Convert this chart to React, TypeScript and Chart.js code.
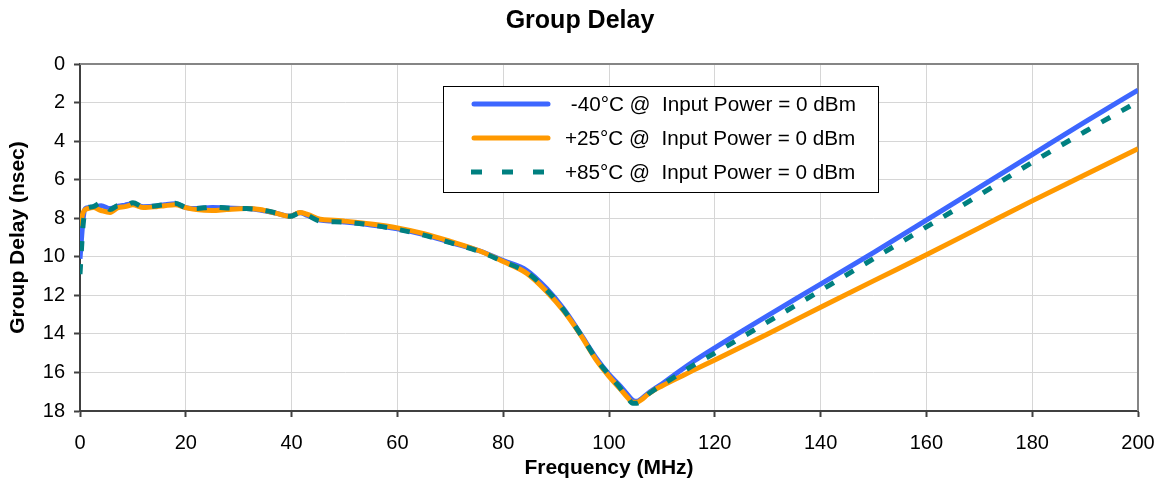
import React, { useEffect, useRef } from "react";
import { Chart, registerables } from "chart.js";

Chart.register(...registerables);

const chartTitle = "Group Delay";
const xAxisTitle = "Frequency (MHz)";
const yAxisTitle = "Group Delay (nsec)";

const seriesLabels = [
  " -40°C @  Input Power = 0 dBm",
  "+25°C @  Input Power = 0 dBm",
  "+85°C @  Input Power = 0 dBm",
];

const frequencyMHz = [
  0, 0.3, 0.6, 1, 1.5, 2.5, 4, 5.7, 7.2, 8.5, 10, 12, 14.5, 16, 18, 20, 22, 25,
  27.7, 31.5, 34, 37.2, 39.7, 41.6, 43, 45.4, 48, 50, 55, 60, 65, 70, 75.6, 80,
  84.4, 88.2, 91.4, 94.5, 97.7, 100, 102.1, 103.5, 104.5, 105.3, 106.2, 107.3,
  108.6, 110, 112.5, 116, 120, 130, 140, 150, 160, 170, 180, 190, 200,
];

const delayMinus40 = [
  10.1, 9.0, 8.0, 7.5, 7.45, 7.42, 7.35, 7.5, 7.38, 7.32, 7.25, 7.4, 7.36, 7.3,
  7.25, 7.45, 7.5, 7.45, 7.47, 7.5, 7.58, 7.75, 7.9, 7.72, 7.85, 8.1, 8.15, 8.2,
  8.35, 8.55, 8.85, 9.25, 9.7, 10.2, 10.7, 11.65, 12.7, 13.95, 15.3, 16.1, 16.7,
  17.15, 17.45, 17.5, 17.35, 17.1, 16.85, 16.6, 16.1, 15.42, 14.72, 13.05,
  11.42, 9.78, 8.1, 6.4, 4.7, 3.0, 1.35,
];

const delayPlus25 = [
  8.4, 8.0, 7.7, 7.55, 7.5, 7.45, 7.6, 7.7, 7.45, 7.4, 7.3, 7.45, 7.4, 7.35,
  7.3, 7.45, 7.55, 7.6, 7.55, 7.5, 7.55, 7.75, 7.9, 7.7, 7.8, 8.05, 8.1, 8.15,
  8.3, 8.5, 8.8, 9.2, 9.7, 10.25, 10.85, 11.8, 12.8, 14.0, 15.4, 16.2, 16.85,
  17.3, 17.55, 17.55, 17.4, 17.15, 16.9, 16.7, 16.36, 15.88, 15.35, 14.0, 12.62,
  11.25, 9.9, 8.5, 7.1, 5.75, 4.4,
];

const delayPlus85 = [
  10.9, 9.5, 8.3, 7.6, 7.45, 7.4, 7.2, 7.55, 7.35, 7.35, 7.2, 7.42, 7.35, 7.3,
  7.22, 7.45, 7.5, 7.42, 7.47, 7.5, 7.56, 7.73, 7.9, 7.73, 7.85, 8.15, 8.18,
  8.2, 8.35, 8.58, 8.88, 9.27, 9.73, 10.25, 10.8, 11.72, 12.75, 13.97, 15.35,
  16.13, 16.8, 17.3, 17.6, 17.6, 17.45, 17.15, 16.9, 16.65, 16.22, 15.62, 15.0,
  13.38, 11.75, 10.1, 8.45, 6.8, 5.1, 3.5, 1.95,
];

const FONT = "'Liberation Sans', Arial, Helvetica, sans-serif";
const BLUE = "#3D66FF";
const ORANGE = "#FF9900";
const TEAL = "#008080";

const toPoints = (ys: number[]) => frequencyMHz.map((x, i) => ({ x, y: ys[i] }));

const plotFramePlugin = {
  id: "plotFrame",
  beforeDatasetsDraw(chart: any) {
    const { ctx, chartArea } = chart;
    ctx.save();
    ctx.strokeStyle = "#858585";
    ctx.lineWidth = 2;
    ctx.beginPath();
    ctx.moveTo(chartArea.left, chartArea.top);
    ctx.lineTo(chartArea.right, chartArea.top);
    ctx.lineTo(chartArea.right, chartArea.bottom);
    ctx.stroke();
    ctx.restore();
  },
};

const boxLegendPlugin = {
  id: "boxLegend",
  afterDatasetsDraw(chart: any) {
    const { ctx } = chart;
    const left = 443;
    const top = 86;
    const width = 435;
    const height = 106;
    ctx.save();
    ctx.fillStyle = "#ffffff";
    ctx.fillRect(left, top, width, height);
    ctx.strokeStyle = "#000000";
    ctx.lineWidth = 1;
    ctx.strokeRect(left + 0.5, top + 0.5, width, height);
    const rows = [104, 138, 172];
    chart.data.datasets.forEach((ds: any, i: number) => {
      const y = rows[i];
      const dashed = ds.borderDash && ds.borderDash.length;
      ctx.beginPath();
      ctx.strokeStyle = ds.borderColor;
      ctx.lineWidth = 5;
      ctx.lineCap = dashed ? "butt" : "round";
      ctx.setLineDash(dashed ? [11, 20] : []);
      ctx.moveTo(dashed ? 471 : 474, y);
      ctx.lineTo(dashed ? 550 : 548, y);
      ctx.stroke();
      ctx.setLineDash([]);
      ctx.fillStyle = "#000000";
      ctx.font = `20.7px ${FONT}`;
      ctx.textBaseline = "middle";
      ctx.textAlign = "left";
      ctx.fillText(ds.label, 565, y + 1);
    });
    ctx.restore();
  },
};

export default function App() {
  const canvasRef = useRef<HTMLCanvasElement | null>(null);

  useEffect(() => {
    document.body.style.margin = "0";
    const canvas = canvasRef.current;
    if (!canvas) return;
    const chart = new Chart(canvas, {
      type: "line",
      data: {
        datasets: [
          {
            label: seriesLabels[0],
            data: toPoints(delayMinus40),
            borderColor: BLUE,
            borderWidth: 5,
            pointRadius: 0,
            cubicInterpolationMode: "monotone",
            order: 3,
          },
          {
            label: seriesLabels[1],
            data: toPoints(delayPlus25),
            borderColor: ORANGE,
            borderWidth: 5,
            pointRadius: 0,
            cubicInterpolationMode: "monotone",
            order: 2,
          },
          {
            label: seriesLabels[2],
            data: toPoints(delayPlus85),
            borderColor: TEAL,
            borderWidth: 5,
            borderDash: [10, 13],
            borderCapStyle: "butt",
            pointRadius: 0,
            cubicInterpolationMode: "monotone",
            order: 1,
          },
        ],
      } as any,
      options: {
        animation: false,
        responsive: true,
        maintainAspectRatio: false,
        layout: { padding: { left: 0, right: 0, top: 0, bottom: 0 } },
        plugins: {
          legend: { display: false },
          tooltip: { enabled: false },
          title: {
            display: true,
            text: chartTitle,
            color: "#000",
            font: { family: FONT, size: 25, weight: "bold" },
            padding: { top: 6, bottom: 28 },
          },
        },
        scales: {
          x: {
            type: "linear",
            min: 0,
            max: 200,
            ticks: {
              stepSize: 20,
              color: "#000",
              font: { family: FONT, size: 20 },
              padding: 14,
              maxRotation: 0,
            },
            grid: {
              color: "#d6d6d6",
              lineWidth: 1,
              tickColor: "#404040",
              tickWidth: 2,
              tickLength: 6,
            },
            border: { display: true, color: "#404040", width: 2 },
            title: {
              display: true,
              text: xAxisTitle,
              color: "#000",
              font: { family: FONT, size: 21, weight: "bold" },
              padding: { top: 0, bottom: 4 },
            },
            afterFit(scale: any) {
              scale.height = 74;
              scale.paddingLeft = 0;
              scale.paddingRight = 22;
            },
          },
          y: {
            type: "linear",
            reverse: true,
            min: 0,
            max: 18,
            ticks: {
              stepSize: 2,
              color: "#000",
              font: { family: FONT, size: 20 },
              padding: 9,
            },
            grid: {
              color: "#d6d6d6",
              lineWidth: 1,
              tickColor: "#404040",
              tickWidth: 2,
              tickLength: 6,
            },
            border: { display: true, color: "#404040", width: 2 },
            title: {
              display: true,
              text: yAxisTitle,
              color: "#000",
              font: { family: FONT, size: 21, weight: "bold" },
              padding: { top: 6, bottom: 0 },
            },
            afterFit(scale: any) {
              scale.width = 80;
            },
          },
        },
      } as any,
      plugins: [plotFramePlugin, boxLegendPlugin],
    });
    return () => chart.destroy();
  }, []);

  return (
    <div style={{ position: "relative", width: 1160, height: 485 }}>
      <canvas ref={canvasRef} />
    </div>
  );
}
